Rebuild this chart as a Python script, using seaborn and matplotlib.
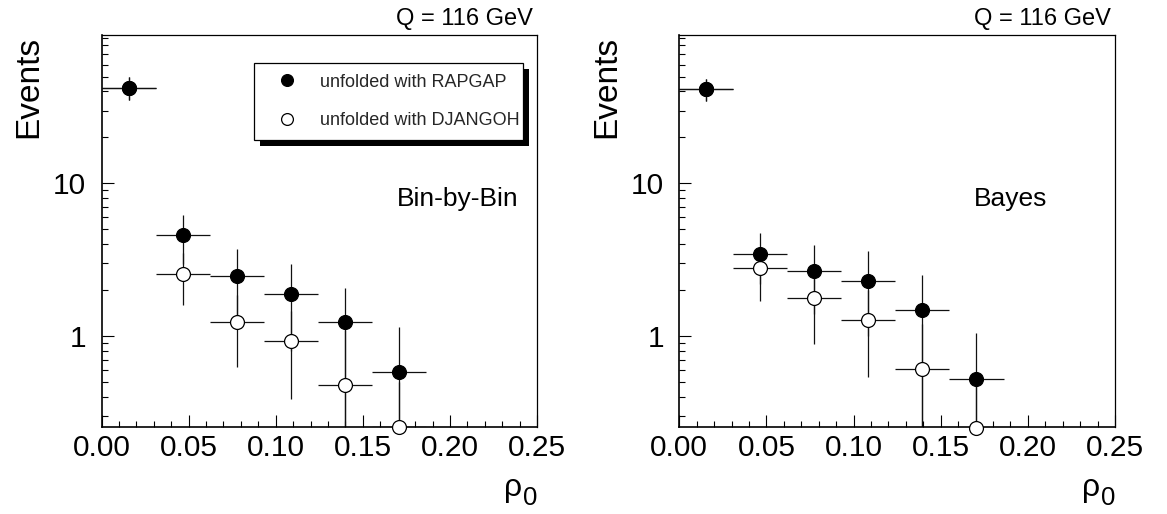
import numpy as np
import pandas as pd
import matplotlib
matplotlib.use("Agg")
import matplotlib.pyplot as plt
import matplotlib.transforms as mtransforms
import seaborn as sns
from matplotlib.ticker import MultipleLocator, LogLocator, NullFormatter, FuncFormatter
from matplotlib.patches import Rectangle
from matplotlib.lines import Line2D

# ---------------- data ----------------
rho_centers = [0.0155, 0.0465, 0.0775, 0.1085, 0.1395, 0.1705]
rho_halfwidth = 0.0155

# Bin-by-Bin panel
bbb_rapgap = [42.0, 4.57, 2.48, 1.88, 1.235, 0.58]
bbb_rapgap_hi = [49.5, 6.24, 3.69, 2.96, 2.08, 1.15]
bbb_rapgap_lo = [35.2, 2.95, 1.28, 0.80, 0.20, 0.20]
bbb_django = [42.0, 2.54, 1.24, 0.923, 0.476, 0.255]
bbb_django_hi = [49.5, 3.50, 1.86, 1.45, 1.10, 0.50]
bbb_django_lo = [35.2, 1.59, 0.63, 0.39, 0.20, 0.20]

# Bayes panel
bay_rapgap = [41.4, 3.46, 2.65, 2.29, 1.49, 0.52]
bay_rapgap_hi = [48.5, 4.74, 3.95, 3.63, 2.53, 1.04]
bay_rapgap_lo = [34.5, 2.20, 1.40, 1.00, 0.20, 0.20]
bay_django = [41.4, 2.78, 1.77, 1.28, 0.61, 0.252]
bay_django_hi = [48.5, 3.85, 2.65, 2.00, 1.20, 0.50]
bay_django_lo = [34.5, 1.71, 0.89, 0.54, 0.20, 0.20]

x_ticks = [0.00, 0.05, 0.10, 0.15, 0.20, 0.25]
x_ticklabels = ["0.00", "0.05", "0.10", "0.15", "0.20", "0.25"]
legend_labels = ["unfolded with RAPGAP", "unfolded with DJANGOH"]
top_label = "Q = 116 GeV"
methods = ["Bin-by-Bin", "Bayes"]

# ---------------- style ----------------
sns.set_theme(style="ticks")
plt.rcParams["font.family"] = ["Liberation Sans", "DejaVu Sans"]
plt.rcParams["axes.facecolor"] = "white"
plt.rcParams["figure.facecolor"] = "white"

fig = plt.figure(figsize=(11.67, 5.14), dpi=100)
ax1 = fig.add_axes([0.0870, 0.1693, 0.3732, 0.7617])
ax2 = fig.add_axes([0.5821, 0.1693, 0.3734, 0.7617])


def draw_panel(ax, rap, rap_lo, rap_hi, dj, dj_lo, dj_hi, method):
    ax.set_yscale("log")
    for y, lo, hi in [(rap, rap_lo, rap_hi), (dj, dj_lo, dj_hi)]:
        y = np.array(y)
        yerr = [y - np.array(lo), np.array(hi) - y]
        ax.errorbar(rho_centers, y, xerr=rho_halfwidth, yerr=yerr, fmt="none",
                    ecolor="#111111", elinewidth=0.9, capsize=0, zorder=2)
    df_dj = pd.DataFrame({"rho": rho_centers, "events": dj})
    df_rap = pd.DataFrame({"rho": rho_centers, "events": rap})
    sns.scatterplot(data=df_dj, x="rho", y="events", ax=ax, marker="o", s=100,
                    color="white", edgecolor="black", linewidth=0.9,
                    zorder=3, clip_on=False, legend=False)
    sns.scatterplot(data=df_rap, x="rho", y="events", ax=ax, marker="o", s=100,
                    color="black", edgecolor="black", linewidth=0.9,
                    zorder=4, clip_on=False, legend=False)

    ax.set_xlim(0.0, 0.25)
    ax.set_ylim(0.254, 93)
    ax.set_xticks(x_ticks)
    ax.set_xticklabels(x_ticklabels)
    ax.xaxis.set_minor_locator(MultipleLocator(0.01))
    ax.yaxis.set_major_locator(LogLocator(base=10))
    ax.yaxis.set_minor_locator(LogLocator(base=10, subs=np.arange(2, 10)))
    ax.yaxis.set_major_formatter(FuncFormatter(lambda v, p: "%g" % v))
    ax.yaxis.set_minor_formatter(NullFormatter())

    ax.tick_params(axis="both", which="both", direction="in", top=False, right=False,
                   colors="black", labelsize=21.5)
    ax.tick_params(axis="both", which="major", length=8.6, width=0.8)
    ax.tick_params(axis="both", which="minor", length=4.3, width=0.8)
    ax.tick_params(axis="y", which="major", pad=11)
    ax.tick_params(axis="x", which="major", pad=5)

    for side in ["left", "bottom"]:
        ax.spines[side].set_linewidth(1.2)
        ax.spines[side].set_color("black")
    for side in ["top", "right"]:
        ax.spines[side].set_linewidth(0.9)
        ax.spines[side].set_color("black")
        ax.spines[side].set_visible(True)

    ax.set_xlabel("")
    ax.set_ylabel("Events", fontsize=24, loc="top", color="black")
    ax.yaxis.set_label_coords(-0.132, 1.0)

    # rho_0 label (big subscript like ROOT)
    ax.text(1.0, -0.199, "0", transform=ax.transAxes, ha="right", va="baseline",
            fontsize=18.5, color="black")
    rho_tr = ax.transAxes + mtransforms.ScaledTranslation(-15.0 / 100, 0, fig.dpi_scale_trans)
    ax.text(1.0, -0.176, "ρ", transform=rho_tr, ha="right", va="baseline",
            fontsize=23, color="black")

    ax.text(0.991, 1.028, top_label, transform=ax.transAxes, ha="right",
            va="baseline", fontsize=17, color="black")
    ax.text(0.677, 0.612, method, transform=ax.transAxes, ha="left", va="top",
            fontsize=19, color="black")


draw_panel(ax1, bbb_rapgap, bbb_rapgap_lo, bbb_rapgap_hi,
           bbb_django, bbb_django_lo, bbb_django_hi, methods[0])
draw_panel(ax2, bay_rapgap, bay_rapgap_lo, bay_rapgap_hi,
           bay_django, bay_django_lo, bay_django_hi, methods[1])

handles = [
    Line2D([], [], marker="o", ls="none", mfc="black", mec="black", ms=8.5, mew=0.9),
    Line2D([], [], marker="o", ls="none", mfc="white", mec="black", ms=8.5, mew=0.9),
]
leg = ax1.legend(handles, legend_labels, loc="upper left",
                 bbox_to_anchor=(0.350, 0.736, 0.618, 0.194), mode="expand",
                 borderaxespad=0, fontsize=13, frameon=True, fancybox=False,
                 framealpha=1, edgecolor="black", borderpad=0.6,
                 handlelength=2.47, handletextpad=0.6, labelspacing=1.2)
leg.get_frame().set_linewidth(0.9)
leg.set_zorder(10)

fig.canvas.draw()
bb = leg.get_window_extent()
shadow = Rectangle((bb.x0 + 6, bb.y0 - 6), bb.width, bb.height,
                   transform=mtransforms.IdentityTransform(),
                   facecolor="black", edgecolor="none", zorder=9.5)
shadow.set_clip_on(False)
ax1.add_artist(shadow)

fig.savefig("out.png", dpi=100)
